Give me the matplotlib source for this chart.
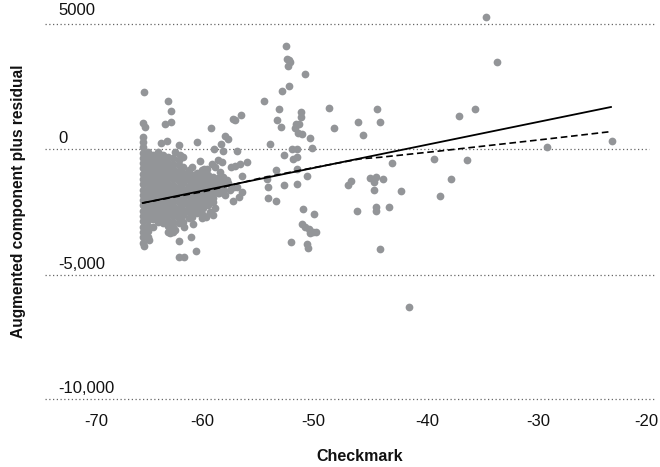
import matplotlib
matplotlib.use("Agg")
import matplotlib.pyplot as plt

# Scattered points
scatter_x = [-52.73,-52.70,-52.46,-52.40,-52.58,-51.01,-52.52,-53.10,-54.79,-53.43,-51.40,-51.40,-53.58,-53.19,-51.89,-51.58,
             -51.98,-51.70,-51.34,-50.61,-54.18,-52.25,-51.73,-50.37,-52.91,-51.79,-52.16,-53.67,-51.73,-50.86,-54.46,-54.43,
             -52.97,-51.73,-54.37,-53.70,-51.19,-50.22,-51.34,-51.04,-50.65,-50.28,-50.55,-50.07,-52.28,-50.83,-50.74,-48.89,
             -48.44,-46.26,-44.53,-44.23,-45.78,-46.86,-47.14,-45.11,-44.57,-44.78,-43.96,-44.78,-46.29,-44.60,-44.63,-43.42,
             -44.23,-43.11,-42.33,-39.30,-38.76,-37.79,-41.63,-34.58,-33.61,-35.60,-37.03,-36.36,-29.04,-23.14]
scatter_y = [4122,3593,3554,3474,3315,2985,2508,2310,1926,1622,1490,1304,1172,908,1027,1027,
             855,643,603,444,220,21,21,48,-204,-296,-363,-826,-760,-1064,-1156,-1500,
             -1421,-1368,-1937,-2056,-2360,-2572,-2955,-3088,-3141,-3273,-3326,-3273,-3657,-3763,-3895,1648,
             868,1093,1609,1106,564,-1249,-1421,-1143,-1103,-1275,-1156,-1593,-2440,-2294,-2453,-2294,
             -3961,-534,-1633,-389,-1831,-1156,-6250,5273,3474,1596,1318,-415,101,339]

# Outliers around the dense cloud
edge_x = [-65.67,-63.43,-63.19,-63.71,-63.19,-65.70,-65.55,-57.60,-57.38,-56.84,-59.53,-58.29,-57.99,-60.80,-63.58,-64.13,
          -62.43,-58.69,-59.29,-58.50,-57.17,-62.07,-60.53,-58.90,-58.60,-59.50,-61.30,-56.33,-56.93,-57.38,-57.75,-60.17,
          -60.87,-56.72,-58.14,-57.23,-56.78,-56.99,-57.60,-58.80,-59.20,-59.35,-60.02,-60.41,-61.17,-61.98,-62.83,-63.28,
          -61.41,-62.43,-60.95,-62.43,-62.01,-65.16,-65.67,
          -60.40,-59.90,-59.20,-58.75,-58.45,-60.85,-61.30,-59.65,-60.25,-58.00,-57.85,-58.30,-57.50,-59.70,-62.85,-62.40]
edge_y = [2283,1912,1542,1026,1079,1039,907,1224,1158,1383,867,536,430,298,325,245,
          166,219,7,-46,-46,-310,-469,-416,-496,-575,-681,-496,-575,-654,-707,-760,
          -919,-1051,-1210,-1475,-1673,-1872,-2057,-1713,-2335,-2599,-2692,-2732,-2957,-3062,-3195,-3300,
          -3486,-3618,-4041,-4266,-4253,-3592,-3830,
          -815,-790,-710,-880,-1080,-2530,-2665,-2470,-2600,-1330,-1600,-1800,-1480,-1870,-90,-215]

# Dense cloud, read column by column
cloud_x = [-65.70,-65.25,-64.80,-64.35,-63.90,-63.43,-63.00,-62.50,-62.07,-61.60,-61.17,-60.70,-60.25,-59.80,-59.35,-58.90,-58.44]
cloud_y = [
    [510,300,90,-120,-330,-540,-750,-960,-1170,-1380,-1590,-1800,-2010,-2220,-2430,-2640,-2850,-3060,-3270,-3480,-3720],
    [-85,-295,-505,-715,-925,-1135,-1345,-1555,-1765,-1975,-2185,-2395,-2605,-2815,-3025,-3235,-3460],
    [-218,-430,-640,-850,-1060,-1270,-1480,-1690,-1900,-2110,-2320,-2530,-2740,-3060],
    [-85,-300,-510,-720,-930,-1140,-1350,-1560,-1770,-1980,-2190,-2400,-2610,-2860],
    [-218,-430,-640,-850,-1060,-1270,-1480,-1690,-1900,-2110,-2320,-2530,-2740,-2930],
    [-310,-520,-730,-940,-1150,-1360,-1570,-1780,-1990,-2200,-2410,-2620,-2830,-3040,-3260],
    [-350,-560,-770,-980,-1190,-1400,-1610,-1820,-2030,-2240,-2450,-2660,-2870,-3060,-3260],
    [-416,-630,-840,-1050,-1260,-1470,-1680,-1890,-2100,-2310,-2520,-2730,-2930],
    [-707,-920,-1130,-1340,-1550,-1760,-1970,-2180,-2390,-2600,-2860],
    [-813,-1020,-1230,-1440,-1650,-1860,-2070,-2280,-2490,-2730],
    [-1012,-1220,-1430,-1640,-1850,-2060,-2270,-2533],
    [-1078,-1290,-1500,-1710,-1920,-2130,-2340,-2467],
    [-945,-1160,-1370,-1580,-1790,-2000,-2210,-2335],
    [-1012,-1220,-1430,-1640,-1850,-2060,-2200],
    [-1078,-1290,-1500,-1710,-1920,-2070],
    [-1144,-1350,-1550,-1740],
    [-1276,-1450,-1607],
]

# Fit lines
fit_x = [-65.76,-23.27]
fit_y = [-2123,1687]
smooth_x = [-65.76,-60,-55,-50,-46,-44.23,-38.78,-29.04,-23.3]
smooth_y = [-2123,-1650,-1130,-700,-370,-310,-58,418,709]

x_ticks = [-70,-60,-50,-40,-30,-20]
y_levels = [5000,0,-5000,-9920]
y_labels = ["5000","0","-5,000","-10,000"]
grid_right = [-19.3,-19.8,-19.3,-19.3]
x_label_nudge_px = [0,-4,-3,1,1,-1]
y_label_gap = [240,120,140,140]

plt.rcParams['font.family'] = ['Liberation Sans', 'DejaVu Sans']
GRAY = "#939598"
INK = "#111111"

fig = plt.figure(figsize=(6.6, 4.67), dpi=100)
ax = fig.add_axes([0, 0, 1, 1])
ax.set_xlim(-78.71, -18.82)
ax.set_ylim(-12605, 5935)
ax.set_xticks([]); ax.set_yticks([])
for s in ax.spines.values():
    s.set_visible(False)

ax.hlines(y_levels, -74.6, grid_right, colors="#666666", linestyles=(0, (1, 2)), linewidth=0.9, zorder=1)

xs = list(scatter_x) + list(edge_x)
ys = list(scatter_y) + list(edge_y)
for cx, col in zip(cloud_x, cloud_y):
    xs += [cx] * len(col)
    ys += col
ax.scatter(xs, ys, s=31, color=GRAY, linewidths=0, zorder=2)

ax.plot(fit_x, fit_y, color="black", lw=1.3, zorder=3)
ax.plot(smooth_x, smooth_y, color="black", lw=1.2, ls=(0, (4, 2.2)), zorder=3)

for lv, lb, gap in zip(y_levels, y_labels, y_label_gap):
    ax.text(-73.45, lv + gap, lb, fontsize=12, ha="left", va="bottom", color=INK)

for t, nudge in zip(x_ticks, x_label_nudge_px):
    ax.annotate(str(t), xy=(t, -10818), xytext=(nudge * 0.72, 0), textcoords="offset points",
                fontsize=12, ha="center", va="center", color=INK)

ax.text(-46.1, -12180, "Checkmark", fontsize=11.5, fontweight="bold", ha="center", va="center", color=INK)
ax.text(-77.0, -2064, "Augmented component plus residual", fontsize=11.2, fontweight="bold",
        rotation=90, ha="center", va="center", color=INK)

fig.savefig("out.png", dpi=100)
